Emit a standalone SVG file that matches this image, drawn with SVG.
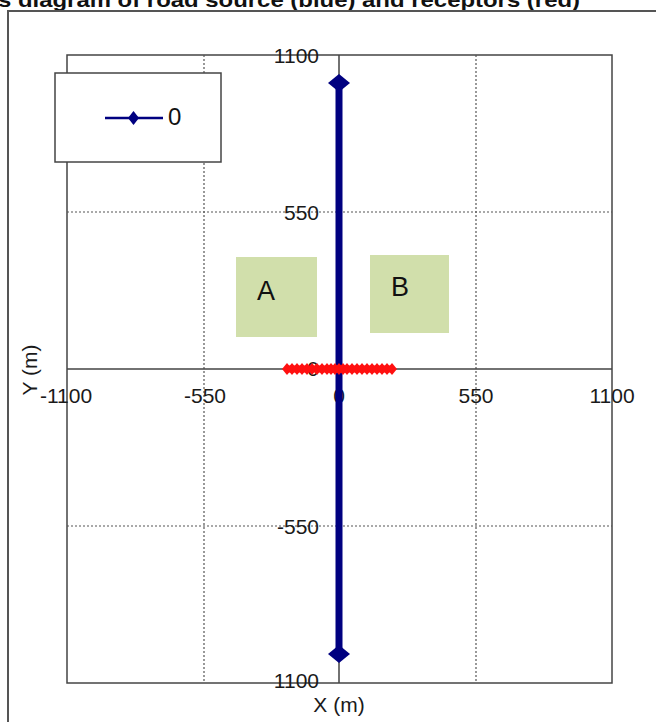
<svg xmlns="http://www.w3.org/2000/svg" width="656" height="722" viewBox="0 0 656 722">
<style>
.t{font-family:"Liberation Sans",Arial,sans-serif;font-size:21px;fill:#1a1a1a;text-anchor:middle}
.r{text-anchor:end}
.grid{stroke:#555;stroke-width:1.2;stroke-dasharray:2 2;fill:none}
.ax{stroke:#444;stroke-width:1.5;fill:none}
.frame{stroke:#555;stroke-width:2;fill:none}
.zone{fill:#d1dfab}
.lbl{font-family:"Liberation Sans",Arial,sans-serif;font-size:27px;fill:#111;text-anchor:middle}
</style>
<defs>
<path id="dia" d="M0,-9 L11,0 L0,9 L-11,0 Z" fill="#000080"/>
<path id="rd" d="M0,-6 L5,0 L0,6 L-5,0 Z" fill="#ff1010"/>
</defs>
<rect width="656" height="722" fill="#fff"/>
<text x="-2" y="7" font-family="Liberation Sans,Arial,sans-serif" font-size="21" font-weight="bold" fill="#111" textLength="582" lengthAdjust="spacingAndGlyphs">s diagram of road source (blue) and receptors (red)</text>
<path class="frame" d="M8,722 V11 H656"/>
<g id="plot">
<rect x="67" y="55" width="545" height="628" fill="#fff" stroke="#444" stroke-width="1.5"/>
<path class="grid" d="M204,55 V683 M476,55 V683 M67,212 H612 M67,526 H612"/>
<path class="ax" d="M67,369 H612 M339,55 V683"/>
</g>
<g id="ticks">
<text class="t r" x="319" y="63">1100</text>
<text class="t r" x="319" y="220">550</text>
<text class="t r" x="319" y="376">0</text>
<text class="t r" x="319" y="534">-550</text>
<text class="t r" x="319" y="688">1100</text>
<text class="t" x="66" y="403">-1100</text>
<text class="t" x="205" y="403">-550</text>
<text class="t" x="339" y="403">0</text>
<text class="t" x="476" y="403">550</text>
<text class="t" x="612" y="403">1100</text>
<text class="t" x="339" y="712">X (m)</text>
<text class="t" transform="translate(37,370) rotate(-90)">Y (m)</text>
</g>
<g id="zoneA"><rect class="zone" x="236" y="257" width="81" height="80"/><text class="lbl" x="266" y="300">A</text></g>
<g id="zoneB"><rect class="zone" x="370" y="255" width="79" height="78"/><text class="lbl" x="400" y="296">B</text></g>
<g id="road">
<line x1="339" y1="83" x2="339" y2="654" stroke="#000080" stroke-width="7"/>
<use href="#dia" x="339" y="83"/>
<use href="#dia" x="339" y="654"/>
</g>
<g id="receptors">
<line x1="287" y1="369" x2="392" y2="369" stroke="#ff1010" stroke-width="7"/>
<use href="#rd" x="287" y="369"/><use href="#rd" x="292" y="369"/><use href="#rd" x="297" y="369"/><use href="#rd" x="302" y="369"/><use href="#rd" x="307" y="369"/><use href="#rd" x="312" y="369"/><use href="#rd" x="317" y="369"/><use href="#rd" x="322" y="369"/><use href="#rd" x="327" y="369"/><use href="#rd" x="331" y="369"/><use href="#rd" x="335" y="369"/><use href="#rd" x="339" y="369"/><use href="#rd" x="343" y="369"/><use href="#rd" x="347" y="369"/><use href="#rd" x="352" y="369"/><use href="#rd" x="357" y="369"/><use href="#rd" x="362" y="369"/><use href="#rd" x="367" y="369"/><use href="#rd" x="372" y="369"/><use href="#rd" x="377" y="369"/><use href="#rd" x="382" y="369"/><use href="#rd" x="387" y="369"/><use href="#rd" x="392" y="369"/>
</g>
<g id="legend">
<rect x="55" y="73" width="166" height="89" fill="#fff" stroke="#444" stroke-width="1.5"/>
<line x1="105" y1="118" x2="163" y2="118" stroke="#000080" stroke-width="2.5"/>
<path d="M133.5,111 L139,118 L133.5,125 L128,118 Z" fill="#000080"/>
<text x="168" y="125" font-family="Liberation Sans,Arial,sans-serif" font-size="24" fill="#111">0</text>
</g>
</svg>
